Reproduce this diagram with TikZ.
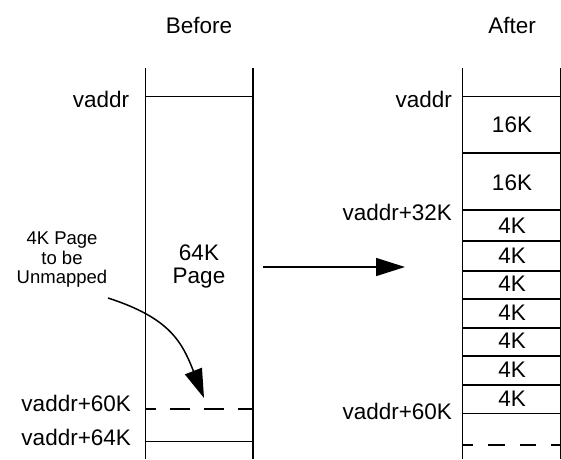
\documentclass[tikz,border=0pt]{standalone}
\usepackage{fontspec}
\setmainfont{Liberation Sans}
\usetikzlibrary{arrows.meta}

\begin{document}
\begin{tikzpicture}[x=1pt, y=-1pt, line width=1.5pt,
    title/.style={inner sep=0pt, font=\fontsize{22.5}{26}\selectfont},
    addr/.style={anchor=base east, inner sep=0pt, font=\fontsize{22.5}{26}\selectfont},
    size/.style={anchor=base, inner sep=0pt, font=\fontsize{22.5}{26}\selectfont},
    bigtip/.style={-{Triangle[length=29pt, width=18pt]}}]
        \useasboundingbox (0,0) rectangle (561,459);

        % Titles
        \node[title] (before) at (199,25) {Before};
        \node[title] (after) at (512,25) {After};

        % Before: one 64K page
        \draw (145.7,68) -- (145.7,459);
        \draw[line width=2pt] (253,68) -- (253,459);
        \draw (145.7,96.5) -- (253,96.5);
        \draw[dash pattern=on 20pt off 14pt, dash phase=10pt] (145.7,409) -- (253,409);
        \draw (145.7,441.7) -- (253,441.7);
        \node[align=center, inner sep=0pt, font=\fontsize{22.5}{23}\selectfont] (page) at (199,266) {64K\\Page};

        \node[addr] (va) at (130,107) {vaddr};
        \node[addr] (va60) at (131.7,411.7) {vaddr+60K};
        \node[addr] (va64) at (131.7,445) {vaddr+64K};

        % Note and its arrow
        \node[align=center, inner sep=0pt, font=\fontsize{18.5}{19.5}\selectfont] (note) at (62,260) {4K Page\\to be\\Unmapped};
        \coordinate (tail) at (108,298);
        \coordinate (hole) at (204,398);
        \draw[bigtip] (tail) .. controls (170,318) and (182,342) .. (hole);

        % Before -> After
        \coordinate (from) at (263,267);
        \coordinate (to) at (405,267);
        \draw[bigtip] (from) -- (to);

        % After: 16K, 16K, then 4K pages
        \draw (462.7,68) -- (462.7,459);
        \draw (560.5,68) -- (560.5,459);
        \foreach \y in {96.5,153,210,241,271,299,328,356,385,413.5}
            \draw (462.7,\y) -- (561,\y);
        \draw[dash pattern=on 16.5pt off 15pt, dash phase=6pt] (462.7,445) -- (561,445);

        \node[size] (k16a) at (512,132.7) {16K};
        \node[size] (k16b) at (512,190) {16K};
        \foreach \b [count=\i] in {241,271,299,328,356,385,413.5}
            \node[size] (k4\i) at (512,\b-7.5) {4K};

        \node[addr] (vb) at (452.7,107) {vaddr};
        \node[addr] (vb32) at (452.7,220.7) {vaddr+32K};
        \node[addr] (vb60) at (452.7,419) {vaddr+60K};

\end{tikzpicture}
\end{document}
